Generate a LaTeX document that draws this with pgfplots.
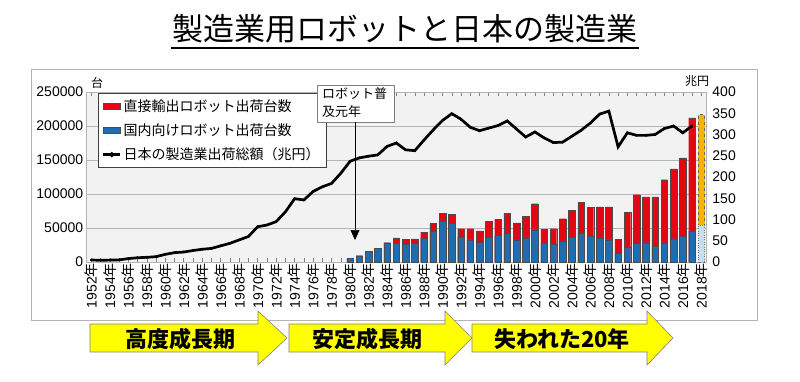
\documentclass[border=0pt]{standalone}
\usepackage{pgfplots}
\pgfplotsset{compat=1.18}
\usepackage{pgfplotstable}
\usepackage{fontspec}
\setmainfont{Liberation Sans}
\newfontfamily\jp{Noto Sans CJK JP}
\usetikzlibrary{arrows.meta}
\newcommand\fs[1]{\fontsize{#1}{#1}\selectfont}
\definecolor{cred}{HTML}{E30613}
\definecolor{cblue}{HTML}{1F6CB0}
\definecolor{corange}{HTML}{F7B500}
\definecolor{clight}{HTML}{C5DEF0}
\definecolor{cbg}{HTML}{F2F2F2}
\definecolor{cgrid}{HTML}{B4B4B4}
\definecolor{carrow}{HTML}{FFFF00}

\pgfplotstableread{
year total dom
1980 5400 5400
1981 9300 9300
1982 16000 16000
1983 20000 20000
1984 28400 28400
1985 35500 27400
1986 33000 26000
1987 34000 27000
1988 44000 35500
1989 56500 45800
1990 72000 60500
1991 70000 57000
1992 49000 36800
1993 49000 32800
1994 45600 29400
1995 60000 36800
1996 62700 39000
1997 72000 42600
1998 57400 32800
1999 67600 35800
2000 85800 47500
2001 48000 28400
2002 49000 26000
2003 63700 31000
2004 76000 36800
2005 88000 43000
2006 80000 38000
2007 81000 35800
2008 81000 32800
2009 33500 13500
2010 73500 22000
2011 99000 28000
2012 95600 28400
2013 95600 23500
2014 121000 28400
2015 137000 34300
2016 153000 38000
2017 212000 45600
}\robots

\pgfplotstableread{
year val
1952 4.7
1953 4
1954 4.5
1955 5
1956 8
1957 10
1958 11
1959 12.5
1960 18
1961 22
1962 23.5
1963 27
1964 30
1965 32
1966 38
1967 44
1968 52
1969 60
1970 83
1971 87
1972 95
1973 118
1974 149
1975 146
1976 166
1977 177
1978 185
1979 209
1980 237
1981 245
1982 249
1983 252
1984 272
1985 280
1986 264
1987 262
1988 287
1989 311
1990 333
1991 349
1992 336
1993 317
1994 309
1995 315
1996 321
1997 332
1998 313
1999 294
2000 306
2001 292
2002 281
2003 282
2004 296
2005 310
2006 327
2007 348
2008 355
2009 271
2010 304
2011 298
2012 298
2013 300
2014 314
2015 320
2016 304
2017 320
}\shipments

\begin{document}
\begin{tikzpicture}[x=1pt,y=1pt]
\path (0,0) rectangle (800,381);
\draw[cgrid, line width=0.8pt] (31,61) rectangle (757,312);
\node[font=\jp\fs{31}] at (405,352) {製造業用ロボットと日本の製造業};
\draw[line width=1.4pt] (171,333) -- (639,333);

\begin{axis}[
  at={(86.7pt,119pt)}, anchor=south west,
  width=619.2pt, height=170pt, scale only axis,
  xmin=1951.5, xmax=2018.5, ymin=0, ymax=250000,
  axis background/.style={fill=cbg},
  axis line style={cgrid, line width=0.8pt},
  ybar, bar width=6.6pt,
  ytick={0,50000,...,250000},
  scaled y ticks=false,
  /pgf/number format/assume math mode=true,
  yticklabel style={/pgf/number format/fixed, /pgf/number format/precision=0, /pgf/number format/1000 sep={}, font=\fs{14}},
  ymajorgrids, grid style={cgrid, line width=0.8pt},
  ytick style={draw=none},
  xtick={1952,1954,...,2018},
  minor xtick={1953,1955,...,2017},
  tick align=inside,
  xtick style={draw=gray, line width=0.5pt},
  major tick length=4pt, minor tick length=4pt,
  xticklabels={1952{\jp 年},1954{\jp 年},1956{\jp 年},1958{\jp 年},1960{\jp 年},1962{\jp 年},1964{\jp 年},1966{\jp 年},1968{\jp 年},1970{\jp 年},1972{\jp 年},1974{\jp 年},1976{\jp 年},1978{\jp 年},1980{\jp 年},1982{\jp 年},1984{\jp 年},1986{\jp 年},1988{\jp 年},1990{\jp 年},1992{\jp 年},1994{\jp 年},1996{\jp 年},1998{\jp 年},2000{\jp 年},2002{\jp 年},2004{\jp 年},2006{\jp 年},2008{\jp 年},2010{\jp 年},2012{\jp 年},2014{\jp 年},2016{\jp 年},2018{\jp 年}},
  xticklabel style={rotate=90, anchor=east, font=\fs{14}, inner sep=1pt},
  legend style={at={(0.018,0.994)}, anchor=north west, draw=black!75, fill=white,
    font=\jp\fs{14}, row sep=7pt, inner sep=4pt, cells={anchor=west}},
  legend cell align=left,
]
\addplot[fill=cred, draw=black!70, line width=0.3pt, bar shift=0pt, area legend] table[x=year,y=total] {\robots};
\addlegendentry{直接輸出ロボット出荷台数}
\addplot[fill=cblue, draw=black!70, line width=0.3pt, bar shift=0pt, area legend] table[x=year,y=dom] {\robots};
\addlegendentry{国内向けロボット出荷台数}
\addplot[fill=corange, draw=black!60, dashed, line width=0.4pt, bar shift=0pt, forget plot] coordinates {(2018,216700)};
\addplot[fill=clight, draw=black!50, dotted, line width=0.4pt, bar shift=0pt, forget plot] coordinates {(2018,54000)};
\addlegendimage{line legend, sharp plot, black, line width=2.6pt, mark=*, mark size=1.1pt}
\addlegendentry{日本の製造業出荷総額（兆円）}
\end{axis}

\begin{axis}[
  at={(86.7pt,119pt)}, anchor=south west,
  width=619.2pt, height=170pt, scale only axis,
  xmin=1951.5, xmax=2018.5, ymin=0, ymax=400,
  axis y line*=right, axis x line=none,
  axis line style={draw=none},
  ytick={0,50,...,400}, ytick style={draw=none},
  /pgf/number format/assume math mode=true,
  yticklabel style={font=\fs{14}, xshift=3pt, /pgf/number format/fixed, /pgf/number format/precision=0},
]
\addplot[black, line width=2.7pt, mark=*, mark size=1.1pt, mark options={line width=0.4pt}] table[x=year,y=val] {\shipments};
\end{axis}

\node[font=\jp\fs{12}] at (97,298) {台};
\node[font=\jp\fs{12}] at (697,300) {兆円};

\draw[cgrid!70!black, fill=white, line width=0.6pt] (317,259) rectangle (394,296);
\node[font=\jp\fs{13}, anchor=west, inner sep=0pt] at (322,287) {ロボット普};
\node[font=\jp\fs{13}, anchor=west, inner sep=0pt] at (322,269) {及元年};
\draw[line width=0.6pt, -{Triangle[length=10pt,width=9pt]}] (355,259) -- (355,141);

\draw[gray, fill=carrow, line width=0.6pt] (90,57) -- (258,57) -- (258,70) -- (287,43) -- (258,16) -- (258,29) -- (90,29) -- cycle;
\draw[gray, fill=carrow, line width=0.6pt] (289,57) -- (445,57) -- (445,70) -- (472,43) -- (445,16) -- (445,29) -- (289,29) -- cycle;
\draw[gray, fill=carrow, line width=0.6pt] (472,57) -- (647,57) -- (647,70) -- (673,43) -- (647,16) -- (647,29) -- (472,29) -- cycle;
\node[font=\jp\bfseries\fs{22}] at (180,42) {高度成長期};
\node[font=\jp\bfseries\fs{22}] at (367,42) {安定成長期};
\node[font=\jp\bfseries\fs{22}] at (562,42) {失われた20年};
\end{tikzpicture}
\end{document}
